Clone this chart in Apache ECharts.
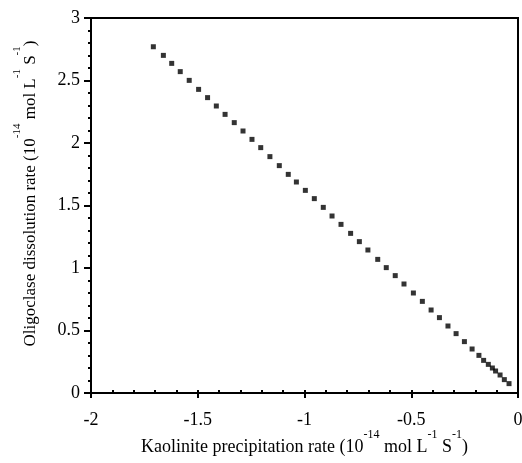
<!DOCTYPE html>
<html>
<head>
<meta charset="utf-8">
<script src="https://cdn.jsdelivr.net/npm/echarts@6/dist/echarts.min.js"></script>
<style>
  html, body { margin: 0; padding: 0; background: #fff; }
  #chart { width: 522px; height: 463px; }
</style>
</head>
<body>
<div id="chart"></div>
<script>
// Kaolinite precipitation rate vs. oligoclase dissolution rate (units of 1e-14 mol L^-1 s^-1)
const kaoliniteRate = [
  -1.708, -1.661, -1.622, -1.582, -1.540, -1.496, -1.454, -1.413, -1.372, -1.329,
  -1.288, -1.246, -1.205, -1.162, -1.118, -1.076, -1.038, -0.996, -0.954, -0.912,
  -0.871, -0.829, -0.784, -0.743, -0.703, -0.657, -0.617, -0.575, -0.534, -0.490,
  -0.448, -0.407, -0.368, -0.328, -0.290, -0.251, -0.215, -0.183, -0.161, -0.139,
  -0.120, -0.105, -0.084, -0.064, -0.042
];
const oligoclaseRate = [
  2.770, 2.701, 2.637, 2.571, 2.501, 2.429, 2.363, 2.296, 2.229, 2.163,
  2.096, 2.029, 1.963, 1.891, 1.819, 1.749, 1.688, 1.621, 1.555, 1.485,
  1.416, 1.349, 1.277, 1.211, 1.144, 1.069, 1.003, 0.939, 0.872, 0.800,
  0.733, 0.664, 0.603, 0.536, 0.475, 0.411, 0.352, 0.301, 0.261, 0.229,
  0.200, 0.176, 0.144, 0.107, 0.075
];
const xRange = [-2, 0];
const yRange = [0, 3];
const xTitle = '{a|Kaolinite precipitation rate (10}{s|-14}{a| mol L}{s|-1}{a| S}{s|-1}{a|)}';
const yTitle = '{a|Oligoclase dissolution rate (10}{s|-14}{a| mol L}{s|-1}{a| S}{s|-1}{a|)}';

const points = kaoliniteRate.map((x, i) => [x, oligoclaseRate[i]]);

const serif = 'Liberation Serif';
// main text sits at the bottom of a tall line box, exponents at its top
function titleRich(size, supSize) {
  return {
    a: { fontFamily: serif, fontSize: size, color: '#000', lineHeight: 27, verticalAlign: 'bottom' },
    s: { fontFamily: serif, fontSize: supSize, color: '#000', lineHeight: 27, verticalAlign: 'top' }
  };
}

const chart = echarts.init(document.getElementById('chart'), null, { renderer: 'canvas' });
chart.setOption({
  animation: false,
  backgroundColor: '#fff',
  grid: {
    left: 91, right: 4, top: 18, bottom: 70,
    outerBoundsMode: 'none',
    show: true, borderColor: '#000', borderWidth: 2, backgroundColor: 'transparent'
  },
  xAxis: [
    {
      type: 'value', min: xRange[0], max: xRange[1], interval: 0.5,
      name: xTitle, nameLocation: 'middle', nameGap: 36, nameMoveOverlap: false,
      nameTextStyle: { rich: titleRich(18, 12) },
      axisLine: { show: true, onZero: false, lineStyle: { color: '#000', width: 2 } },
      axisTick: { show: true, inside: false, length: 5, lineStyle: { color: '#000', width: 2 } },
      minorTick: { show: false },
      axisLabel: { fontFamily: serif, fontSize: 18, color: '#000', margin: 18 },
      splitLine: { show: false }
    },
    {
      type: 'value', min: xRange[0], max: xRange[1], interval: 0.5, position: 'bottom',
      axisLine: { show: false, onZero: false },
      axisTick: { show: true, inside: true, length: 3, lineStyle: { color: '#000', width: 2 } },
      minorTick: { show: true, splitNumber: 5, length: 3, lineStyle: { color: '#000', width: 2 } },
      axisLabel: { show: false },
      splitLine: { show: false }
    }
  ],
  yAxis: {
    type: 'value', min: yRange[0], max: yRange[1], interval: 0.5,
    name: yTitle, nameLocation: 'middle', nameGap: 52, nameRotate: 90, nameMoveOverlap: false,
    nameTextStyle: { rich: titleRich(17, 11), padding: [0, 0, 0, 24] },
    axisLine: { show: true, onZero: false, lineStyle: { color: '#000', width: 2 } },
    axisTick: { show: true, inside: false, length: 7, lineStyle: { color: '#000', width: 2 } },
    minorTick: { show: true, splitNumber: 5, length: 3, lineStyle: { color: '#000', width: 2 } },
    axisLabel: { fontFamily: serif, fontSize: 18, color: '#000', margin: 11 },
    splitLine: { show: false }
  },
  series: [{
    type: 'scatter',
    data: points,
    symbol: 'rect',
    symbolSize: 5,
    itemStyle: { color: '#000' }
  }]
});
</script>
</body>
</html>
